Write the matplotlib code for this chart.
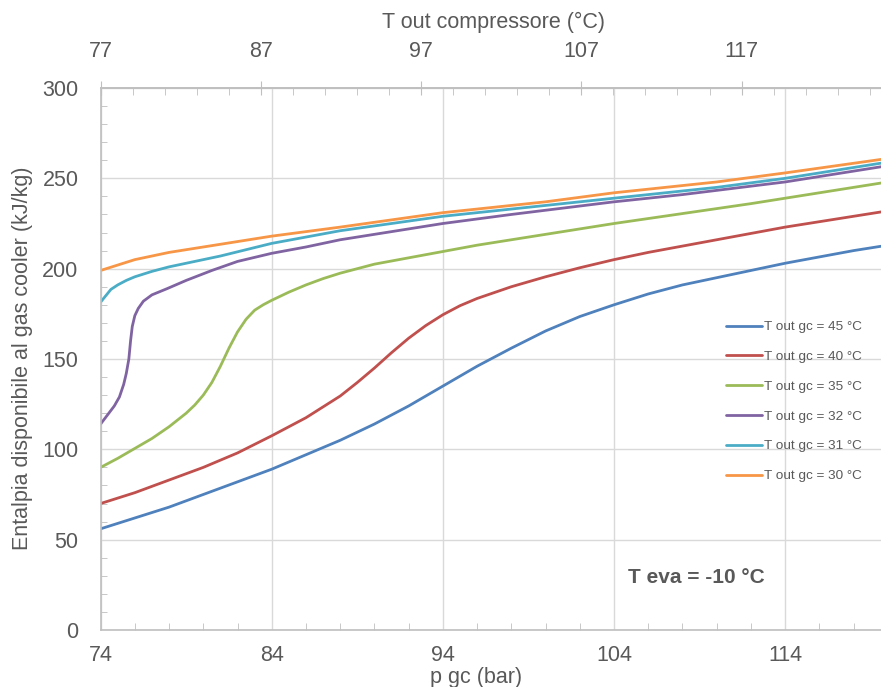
import matplotlib.pyplot as plt

# pressione gas cooler (bar) e entalpia disponibile (kJ/kg)
p_45 = [74, 76, 78, 80, 82, 84, 86, 88, 90, 92, 94, 96, 98, 100, 102, 104, 106, 108, 110, 112, 114, 116, 118, 120]
h_45 = [56, 62, 68, 75, 82, 89, 97, 105, 114, 124, 135, 146, 156, 165.5, 173.5, 180, 186, 191, 195, 199, 203, 206.5, 210, 213]

p_40 = [74, 76, 78, 80, 82, 84, 86, 88, 89, 90, 91, 92, 93, 94, 95, 96, 98, 100, 102, 104, 106, 108, 110, 112, 114, 116, 118, 120]
h_40 = [70, 76, 83, 90, 98, 107.5, 117.5, 129.5, 137, 145, 153.5, 161.5, 168.5, 174.5, 179.5, 183.5, 190, 195.5, 200.5, 205, 209, 212.5, 216, 219.5, 223, 226, 229, 232]

p_35 = [74, 75, 76, 77, 78, 79, 79.5, 80, 80.5, 81, 81.5, 82, 82.5, 83, 83.5, 84, 85, 86, 87, 88, 90, 92, 94, 96, 98, 100, 104, 108, 112, 116, 120]
h_35 = [90, 95, 100.5, 106, 112.5, 120, 124.5, 130, 137, 146, 156, 165, 172, 177, 180, 182.5, 187, 191, 194.5, 197.5, 202.5, 206, 209.5, 213, 216, 219, 225, 230.5, 236, 242, 248]

p_32 = [74, 74.4, 74.8, 75.1, 75.35, 75.5, 75.65, 75.75, 75.85, 76, 76.2, 76.5, 77, 77.9, 79, 80.5, 82, 84, 86, 88, 90, 94, 98, 104, 108, 114, 120]
h_32 = [114, 119, 124, 129, 136, 142, 150, 160, 168, 174, 178, 182, 185.5, 189, 193.5, 199, 204, 208.5, 212, 216, 219, 225, 230, 237, 241, 248, 257]

p_31 = [74, 74.3, 74.6, 75, 75.5, 76, 77, 78, 79, 81, 84, 88, 94, 100, 104, 110, 114, 120]
h_31 = [181.5, 185, 188.5, 191, 193.5, 195.5, 198.5, 201, 203, 207, 214, 221, 229, 235, 239, 245, 250, 259]

p_30 = [74, 75, 76, 78, 80, 84, 88, 94, 100, 104, 110, 114, 120]
h_30 = [199, 202, 205, 209, 212, 218, 223, 231, 237, 242, 248, 253, 261]

labels = ["T out gc = 45 °C", "T out gc = 40 °C", "T out gc = 35 °C",
          "T out gc = 32 °C", "T out gc = 31 °C", "T out gc = 30 °C"]
colors = ["#4F81BD", "#C0504D", "#9BBB59", "#8064A2", "#4BACC6", "#F79646"]

p_ticks = [74, 84, 94, 104, 114]
t_ticks = [77, 87, 97, 107, 117]

txt = "#595959"
axc = "#BFBFBF"
plt.rcParams['font.family'] = ['Liberation Sans', 'DejaVu Sans']

fig = plt.figure(figsize=(8.81, 6.87), dpi=100)
ax = fig.add_axes([0.1142, 0.0830, 0.8858, 0.7889])

series = [(p_45, h_45), (p_40, h_40), (p_35, h_35), (p_32, h_32), (p_31, h_31), (p_30, h_30)]
for (p, h), lab, c in zip(series, labels, colors):
    ax.plot(p, h, color=c, lw=2, label=lab, solid_capstyle='round', solid_joinstyle='round')

ax.set_xlim(74, 119.6)
ax.set_ylim(0, 300)
ax.set_xticks(p_ticks)
ax.set_xticks(range(74, 120, 2), minor=True)
ax.set_yticks(range(0, 301, 50))
ax.set_yticks(range(0, 301, 10), minor=True)
ax.grid(True, which='major', color='#D9D9D9', lw=1)
ax.set_axisbelow(True)

ax.spines['right'].set_visible(False)
for s in ['left', 'bottom', 'top']:
    ax.spines[s].set_color(axc)
    ax.spines[s].set_linewidth(1.2)

ax.tick_params(axis='both', which='both', direction='in', colors=axc,
               labelcolor=txt, labelsize=15.5)
ax.tick_params(axis='x', which='major', length=0, pad=11)
ax.tick_params(axis='x', which='minor', length=5)
ax.tick_params(axis='y', which='major', length=0, pad=16)
ax.tick_params(axis='y', which='minor', length=4)

ax.set_xlabel("p gc (bar)", fontsize=15.5, color=txt, va='center')
ax.xaxis.set_label_coords(0.481, -0.0886)
ax.set_ylabel("Entalpia disponibile al gas cooler (kJ/kg)", fontsize=15.5, color=txt, va='center')
ax.yaxis.set_label_coords(-0.1007, 0.502)

# asse secondario: temperatura uscita compressore
ax2 = ax.twiny()
ax2.set_xlim(77, 125.7)
ax2.set_xticks(t_ticks)
ax2.set_xticks(range(79, 126, 2), minor=True)
ax2.tick_params(axis='x', which='major', direction='inout', length=10, pad=14,
                colors=axc, labelcolor=txt, labelsize=15.5)
ax2.tick_params(axis='x', which='minor', direction='in', length=5, colors=axc)
for s in ['right', 'left', 'bottom']:
    ax2.spines[s].set_visible(False)
ax2.spines['top'].set_color(axc)
ax2.spines['top'].set_linewidth(1.2)
ax2.set_xlabel("T out compressore (°C)", fontsize=15.5, color=txt, va='center')
ax2.xaxis.set_label_coords(0.504, 1.1218)

ax.text(108.8, 28.8, "T eva = -10 °C", fontsize=15, fontweight='bold', color=txt,
        ha='center', va='center')

ax.legend(loc='upper left', bbox_to_anchor=(0.824, 0.533), bbox_transform=fig.transFigure,
          frameon=False, fontsize=9.7, borderpad=0, borderaxespad=0,
          handlelength=2.67, handletextpad=0.15, labelspacing=1.29, labelcolor=txt)

fig.savefig("out.png", dpi=100)
